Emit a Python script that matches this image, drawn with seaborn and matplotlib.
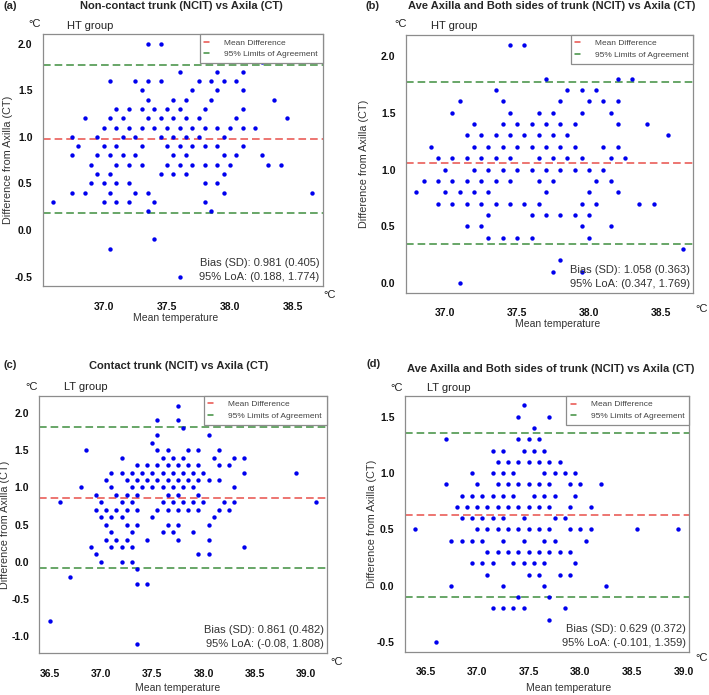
import matplotlib
matplotlib.use('Agg')
import matplotlib.pyplot as plt
from matplotlib.lines import Line2D
import numpy as np
import pandas as pd
import seaborn as sns

# ---- data: difference levels and the mean temperatures at each level ----
a_diff_levels = [2.0, 1.8, 1.7, 1.6, 1.5, 1.4, 1.3, 1.2, 1.1, 1.0, 0.9, 0.8, 0.7, 0.6, 0.5, 0.4, 0.3, 0.2, -0.1, -0.2, -0.5]
a_mean_by_level = [
    [37.35, 37.45],
    [38.25],
    [37.6, 37.9, 38.1],
    [37.05, 37.25, 37.35, 37.45, 37.75, 37.85, 37.95, 38.05],
    [37.3, 37.7, 37.9, 38.1],
    [37.35, 37.55, 37.65, 37.85, 38.35],
    [37.1, 37.2, 37.3, 37.4, 37.5, 37.6, 37.8, 38.1],
    [36.85, 37.05, 37.15, 37.35, 37.45, 37.55, 37.65, 37.75, 38.05, 38.45],
    [37.0, 37.1, 37.2, 37.3, 37.4, 37.5, 37.6, 37.7, 37.8, 37.9, 38.0, 38.1, 38.2],
    [36.75, 36.95, 37.15, 37.25, 37.45, 37.55, 37.65, 37.75, 37.95],
    [36.8, 37.0, 37.1, 37.3, 37.5, 37.6, 37.7, 37.8, 37.9, 38.1],
    [36.75, 36.95, 37.05, 37.15, 37.25, 37.55, 37.65, 37.95, 38.05, 38.25],
    [36.9, 37.1, 37.2, 37.3, 37.5, 37.6, 37.7, 37.8, 37.9, 38.0, 38.3, 38.4],
    [36.95, 37.05, 37.45, 37.55, 37.65, 37.95],
    [36.9, 37.0, 37.1, 37.2, 37.8, 37.9],
    [36.75, 36.85, 37.05, 37.25, 37.35, 37.95, 38.65],
    [36.6, 37.0, 37.1, 37.2, 37.4, 37.8],
    [37.35, 37.85],
    [37.4],
    [37.05],
    [37.6],
]
a_stats = ['0.981', '0.405', '0.188', '1.774']

b_diff_levels = [2.1, 1.8, 1.7, 1.6, 1.5, 1.4, 1.3, 1.2, 1.1, 1.0, 0.9, 0.8, 0.7, 0.6, 0.5, 0.4, 0.3, 0.2, 0.1, 0.0]
b_mean_by_level = [
    [37.45, 37.55],
    [37.7, 38.2, 38.3],
    [37.35, 37.85, 37.95, 38.05],
    [37.1, 37.4, 37.8, 38.0, 38.1, 38.2],
    [37.05, 37.45, 37.65, 37.75, 37.95, 38.15],
    [37.2, 37.4, 37.5, 37.6, 37.7, 37.8, 37.9, 38.2, 38.4],
    [37.15, 37.25, 37.35, 37.45, 37.55, 37.65, 37.75, 37.85, 38.55],
    [36.9, 37.2, 37.3, 37.4, 37.5, 37.6, 37.7, 37.8, 37.9, 38.1, 38.2],
    [36.95, 37.05, 37.15, 37.25, 37.35, 37.45, 37.65, 37.75, 37.85, 37.95, 38.15, 38.25],
    [37.0, 37.2, 37.3, 37.4, 37.5, 37.6, 37.7, 37.8, 37.9, 38.0, 38.1],
    [36.85, 36.95, 37.05, 37.15, 37.25, 37.35, 37.45, 37.65, 37.75, 38.05, 38.15],
    [36.8, 37.0, 37.1, 37.2, 37.3, 37.7, 38.0, 38.2],
    [36.95, 37.05, 37.15, 37.25, 37.35, 37.45, 37.55, 37.65, 37.95, 38.05, 38.35, 38.45],
    [37.3, 37.6, 37.7, 37.8, 37.9, 38.0],
    [37.15, 37.25, 37.95, 38.15],
    [37.3, 37.4, 37.5, 37.6, 38.0],
    [38.65],
    [37.8],
    [37.75, 37.95],
    [37.1],
]
b_stats = ['1.058', '0.363', '0.347', '1.769']

c_diff_levels = [2.1, 1.9, 1.8, 1.7, 1.6, 1.5, 1.4, 1.3, 1.2, 1.1, 1.0, 0.9, 0.8, 0.7, 0.6, 0.5, 0.4, 0.3, 0.2, 0.1, 0.0, -0.1, -0.2, -0.3, -0.8, -1.1]
c_mean_by_level = [
    [37.75],
    [37.55, 37.75],
    [37.8],
    [37.55, 38.05],
    [37.5],
    [36.85, 37.55, 37.65, 37.85, 37.95, 38.15],
    [37.2, 37.6, 37.7, 37.8, 38.1, 38.3, 38.4],
    [37.35, 37.45, 37.55, 37.65, 37.75, 37.85, 37.95, 38.15, 38.25],
    [37.1, 37.2, 37.3, 37.4, 37.5, 37.6, 37.7, 37.8, 37.9, 38.0, 38.4, 38.9],
    [37.05, 37.25, 37.35, 37.45, 37.55, 37.65, 37.75, 37.85, 37.95, 38.05, 38.15],
    [36.8, 37.1, 37.3, 37.4, 37.5, 37.6, 37.7, 37.8, 37.9, 38.3],
    [36.95, 37.15, 37.25, 37.35, 37.65, 37.75, 37.95],
    [36.6, 37.0, 37.2, 37.3, 37.6, 37.7, 37.8, 37.9, 38.0, 38.2, 38.3, 39.1],
    [36.95, 37.05, 37.15, 37.25, 37.35, 37.55, 37.65, 37.75, 37.85, 37.95, 38.15, 38.25],
    [37.0, 37.1, 37.2, 37.5, 38.1],
    [37.05, 37.25, 37.35, 37.65, 37.75, 38.05],
    [37.1, 37.3, 37.6, 37.7, 37.9],
    [37.05, 37.15, 37.25, 37.45, 37.75, 38.05],
    [36.9, 37.1, 37.2, 37.3, 38.4],
    [36.95, 37.95, 38.05],
    [37.0, 37.2, 37.3],
    [37.35],
    [36.7],
    [37.35, 37.45],
    [36.5],
    [37.35],
]
c_stats = ['0.861', '0.482', '-0.08', '1.808']

d_diff_levels = [1.6, 1.5, 1.4, 1.3, 1.2, 1.1, 1.0, 0.9, 0.8, 0.7, 0.6, 0.5, 0.4, 0.3, 0.2, 0.1, 0.0, -0.1, -0.2, -0.3, -0.5]
d_mean_by_level = [
    [37.45],
    [37.4, 37.7],
    [37.55],
    [36.7, 37.4, 37.5, 37.6],
    [37.15, 37.25, 37.45, 37.55, 37.65],
    [37.2, 37.3, 37.4, 37.5, 37.6, 37.7, 37.8],
    [36.95, 37.15, 37.25, 37.35, 37.65, 37.75, 37.85, 37.95],
    [36.7, 37.0, 37.2, 37.3, 37.4, 37.5, 37.6, 37.7, 37.9, 38.0, 38.2],
    [36.85, 36.95, 37.05, 37.15, 37.25, 37.35, 37.55, 37.65, 37.75, 37.95],
    [36.8, 36.9, 37.0, 37.1, 37.2, 37.3, 37.4, 37.5, 37.6, 37.7, 37.9, 38.1],
    [36.85, 36.95, 37.05, 37.15, 37.25, 37.45, 37.75, 37.85],
    [36.4, 37.0, 37.1, 37.2, 37.3, 37.4, 37.5, 37.6, 37.7, 37.9, 38.0, 38.1, 38.55, 38.95],
    [36.75, 36.85, 36.95, 37.05, 37.25, 37.45, 37.65, 37.75, 38.05],
    [37.1, 37.2, 37.3, 37.4, 37.5, 37.6, 37.7, 37.8, 37.9],
    [36.95, 37.05, 37.15, 37.35, 37.45, 37.55, 37.65, 37.95],
    [37.1, 37.5, 37.6, 37.8, 37.9],
    [36.75, 37.25, 37.65, 38.25],
    [37.4, 37.7],
    [37.15, 37.25, 37.35, 37.45, 37.85],
    [37.7],
    [36.6],
]
d_stats = ['0.629', '0.372', '-0.101', '1.359']

titles = ['Non-contact trunk (NCIT) vs Axila (CT)',
          'Ave Axilla and Both sides of trunk (NCIT) vs Axila (CT)',
          'Contact trunk (NCIT) vs Axila (CT)',
          'Ave Axilla and Both sides of trunk (NCIT) vs Axila (CT)']
panel_labels = ['(a)', '(b)', '(c)', '(d)']
groups = ['HT group', 'HT group', 'LT group', 'LT group']
x_ticks = [[37.0, 37.5, 38.0, 38.5], [37.0, 37.5, 38.0, 38.5],
           [36.5, 37.0, 37.5, 38.0, 38.5, 39.0], [36.5, 37.0, 37.5, 38.0, 38.5, 39.0]]
y_ticks = [[-0.5, 0.0, 0.5, 1.0, 1.5, 2.0], [0.0, 0.5, 1.0, 1.5, 2.0],
           [-1.0, -0.5, 0.0, 0.5, 1.0, 1.5, 2.0], [-0.5, 0.0, 0.5, 1.0, 1.5]]

W, H = 709, 695


def px(x, y):
    return x / W, 1 - y / H


def to_frame(levels, means):
    rows = [(m, lv) for lv, ms in zip(levels, means) for m in ms]
    return pd.DataFrame(rows, columns=['mean', 'diff'])


sns.set_style('white')
plt.rcParams['font.family'] = ['Liberation Sans', 'DejaVu Sans']

fig = plt.figure(figsize=(W / 100, H / 100), dpi=100)

# layout (pixels): axes box, label / title / group / degree / axis label positions
layout = [
    dict(box=(42.7, 34.3, 322.7, 286.0), lab=(3, 6), title=(181, 6), deg=(35, 24), grp=(67, 26),
         xlab=(176, 317.7), ylab_x=8, deg2=(330, 295)),
    dict(box=(405.7, 35.0, 693.3, 292.7), lab=(366, 6), title=(552, 6), deg=(400.7, 24), grp=(430.7, 26),
         xlab=(558, 324), ylab_x=364, deg2=(702, 309)),
    dict(box=(39.3, 396.0, 326.7, 653.3), lab=(3, 365), title=(178.7, 365.7), deg=(32, 386.7), grp=(64, 387),
         xlab=(177.7, 687.7), ylab_x=5, deg2=(336.7, 661.7)),
    dict(box=(404.7, 396.0, 689.0, 651.7), lab=(366.7, 364), title=(551, 369), deg=(397, 388), grp=(426.7, 388),
         xlab=(568.7, 688), ylab_x=372.3, deg2=(702, 657.7)),
]

data = [(a_diff_levels, a_mean_by_level, a_stats), (b_diff_levels, b_mean_by_level, b_stats),
        (c_diff_levels, c_mean_by_level, c_stats), (d_diff_levels, d_mean_by_level, d_stats)]

red = '#e8504a'
green = '#3e8e3e'
frame_col = '#8c8c8c'

for i, ((levels, means, stats), lay) in enumerate(zip(data, layout)):
    df = to_frame(levels, means)
    l, t, r, b = lay['box']
    ax = fig.add_axes([l / W, 1 - b / H, (r - l) / W, (b - t) / H])

    sns.scatterplot(data=df, x='mean', y='diff', ax=ax, color='#0000ee', s=10, linewidth=0, zorder=3)

    bias, sd, lo, hi = stats
    ax.axhline(float(bias), color=red, lw=1.1, dashes=(5, 2.6), zorder=2)
    ax.axhline(float(lo), color=green, lw=1.1, dashes=(5, 2.6), zorder=2)
    ax.axhline(float(hi), color=green, lw=1.1, dashes=(5, 2.6), zorder=2)

    # R style 4% range extension
    xmin, xmax = df['mean'].min(), df['mean'].max()
    ymin, ymax = df['diff'].min(), df['diff'].max()
    ax.set_xlim(xmin - 0.04 * (xmax - xmin), xmax + 0.04 * (xmax - xmin))
    ax.set_ylim(ymin - 0.04 * (ymax - ymin), ymax + 0.04 * (ymax - ymin))

    ax.set_xticks(x_ticks[i], ['{:.1f}'.format(v) for v in x_ticks[i]], fontweight='bold', fontsize=7.5)
    ax.set_yticks(y_ticks[i], ['{:.1f}'.format(v) for v in y_ticks[i]], fontweight='bold', fontsize=7.5)
    ax.tick_params(axis='both', direction='out', length=3.3, width=0.8, color=frame_col, labelcolor='#111111')
    ax.tick_params(axis='x', pad=8)
    ax.tick_params(axis='y', pad=4)
    for sp in ax.spines.values():
        sp.set_color(frame_col)
        sp.set_linewidth(0.9)

    # axis labels
    ax.set_xlabel('Mean temperature', fontsize=7.5, color='#333333', va='center')
    ax.xaxis.set_label_coords((lay['xlab'][0] - l) / (r - l), (b - lay['xlab'][1]) / (b - t))
    ax.set_ylabel('Difference from Axilla (CT)', fontsize=7.8, color='#333333', va='center')
    ax.yaxis.set_label_coords((lay['ylab_x'] - l) / (r - l), 0.5)

    # legend
    handles = [Line2D([0], [0], color=red, lw=1.1), Line2D([0], [0], color=green, lw=1.1)]
    leg = ax.legend(handles, ['Mean Difference', '95% Limits of Agreement'], loc='upper right',
                    fontsize=6, frameon=True, fancybox=False, framealpha=1, edgecolor=frame_col,
                    borderaxespad=0, handlelength=0.6, handletextpad=1.8, borderpad=0.55, labelspacing=0.45)
    leg.get_frame().set_linewidth(0.9)
    for txt in leg.get_texts():
        txt.set_color('#444444')

    # bias text
    ax.annotate('Bias (SD): {} ({})'.format(bias, sd), xy=(1, 0), xycoords='axes fraction', xytext=(-3, 23),
                textcoords='offset pixels', ha='right', va='center', fontsize=8, color='#333333')
    ax.annotate('95% LoA: ({}, {})'.format(lo, hi), xy=(1, 0), xycoords='axes fraction', xytext=(-3, 9),
                textcoords='offset pixels', ha='right', va='center', fontsize=8, color='#333333')

    # texts around the panel
    fig.text(*px(*lay['lab']), panel_labels[i], ha='left', va='center', fontsize=8, fontweight='bold')
    fig.text(*px(*lay['title']), titles[i], ha='center', va='center', fontsize=8, fontweight='bold')
    fig.text(*px(*lay['deg']), '\u00b0C', ha='center', va='center', fontsize=8, color='#222222')
    fig.text(*px(*lay['grp']), groups[i], ha='left', va='center', fontsize=8, color='#222222')
    fig.text(*px(*lay['deg2']), '\u00b0C', ha='center', va='center', fontsize=8, color='#222222')

fig.savefig('out.png', dpi=100, facecolor='white')
